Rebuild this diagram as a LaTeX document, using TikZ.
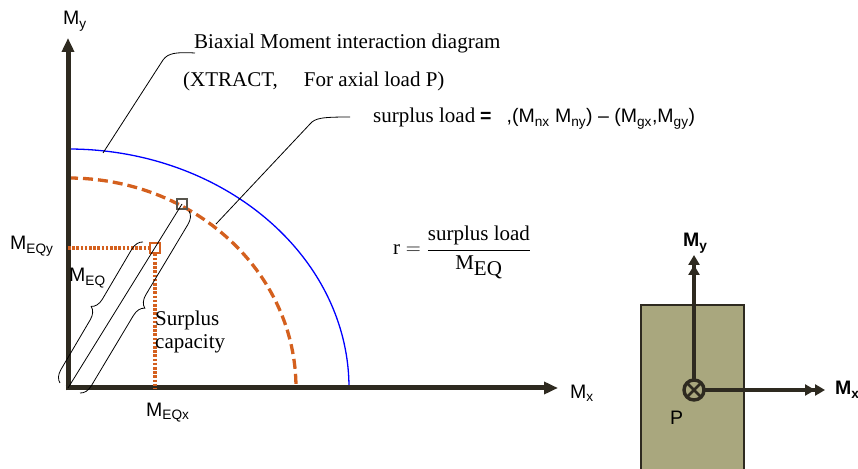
\documentclass[tikz,border=0pt]{standalone}
\usepackage{fontspec}
\setmainfont{Liberation Serif}
\setsansfont{Liberation Sans}
\usetikzlibrary{arrows.meta, decorations.pathreplacing}

\definecolor{axisbrown}{RGB}{46,42,32}
\definecolor{loadorange}{RGB}{212,96,30}
\definecolor{sectionolive}{RGB}{169,167,126}

\newcommand{\Msub}[1]{M\textsubscript{#1}}

\begin{document}
\begin{tikzpicture}[
    x=1pt, y=1pt,
    axis/.style={draw=axisbrown, line width=5pt, -{Triangle[length=14pt, width=12pt]}},
    secaxis/.style={draw=axisbrown, line width=3.4pt, -{Triangle[length=10pt, width=11pt] Triangle[length=10pt, width=11pt]}},
    capacity/.style={draw=blue, line width=1.3pt},
    demand/.style={draw=loadorange, line width=3.3pt, dash pattern=on 10pt off 5pt},
    projection/.style={draw=loadorange, line width=3.3pt, dash pattern=on 2.6pt off 1.6pt},
    leader/.style={draw=black, line width=0.8pt},
    curly/.style={draw=black, line width=0.8pt, decorate, decoration={brace, amplitude=12pt}},
    marker/.style={draw, rectangle, minimum size=10pt, inner sep=0pt, line width=1.1pt},
    serifnote/.style={font=\fontsize{21}{23}\selectfont, inner sep=0pt},
    symbol/.style={font=\sffamily\fontsize{19.5}{22}\selectfont, inner sep=0pt},
    symbolbold/.style={font=\sffamily\bfseries\fontsize{19.5}{22}\selectfont, inner sep=0pt}
]
    \useasboundingbox (0,0) rectangle (858,468);

    % ================= INTERACTION CURVES =================
    \draw[capacity] (68,319) arc[start angle=90, end angle=0, x radius=281pt, y radius=239pt];
    \draw[demand] (68,290) arc[start angle=90, end angle=0, x radius=228pt, y radius=210pt];

    % ================= AXES =================
    \coordinate (O) at (68,80);
    \coordinate (xFoot) at (65.5,80);
    \coordinate (yFoot) at (68,77.5);
    \coordinate (xTip) at (558,80);
    \coordinate (yTip) at (68,430);

    \draw[axis] (xFoot) -- (xTip);
    \draw[axis] (yFoot) -- (yTip);

    \node[symbol, anchor=base west] (My) at (63,443) {\Msub{y}};
    \node[symbol, anchor=base west] (Mx) at (570,70) {\Msub{x}};

    % ================= LOAD POINT =================
    \node[marker, draw=axisbrown!80] (cap) at (182,264) {};
    \node[marker, draw=loadorange] (EQ) at (155,220) {};
    \coordinate (EQyFoot) at (68,220);
    \coordinate (EQxFoot) at (155,80);

    \draw[projection] (EQyFoot) -- (EQ.west);
    \draw[projection] (EQ.south) -- (EQxFoot);
    \draw[leader] (O) -- (cap.center);

    % --- braces ---
    \coordinate (bMEQlow) at (60,85);
    \coordinate (bMEQhigh) at (143,226);
    \coordinate (bSurHigh) at (189,257);
    \coordinate (bSurLow) at (80,75);

    \draw[curly] (bMEQlow) -- (bMEQhigh);
    \draw[curly] (bSurHigh) -- (bSurLow);

    \node[symbol, anchor=base west] (MEQy) at (10,218) {\Msub{EQy}};
    \node[symbol, anchor=base west] (MEQ) at (69,186) {\Msub{EQ}};
    \node[symbol, anchor=base west] (MEQx) at (146,52) {\Msub{EQx}};
    \node[serifnote, anchor=north west, align=left] (surplus) at (155,157) {Surplus\\capacity};

    % ================= TEXTS & LEADERS =================
    \node[serifnote, anchor=base west] (title) at (194,419) {Biaxial Moment interaction diagram};
    \node[serifnote, anchor=base west] (subtitle) at (183,381) {(XTRACT,\hspace{26pt}For axial load P)};
    \node[serifnote, anchor=base west] (sload) at (373,345) {surplus load};
    \node[symbol, anchor=base west] (sdiff) at (480,345) {\textbf{=}\hspace{15pt},(\Msub{nx} \Msub{ny}) -- (\Msub{gx},\Msub{gy})};

    \coordinate (capacityPt) at (103,315);
    \coordinate (titleEnd) at (195,415);
    \coordinate (demandPt) at (216,244);
    \coordinate (sloadEnd) at (350,351);

    \draw[leader] (capacityPt) -- (163,408) .. controls (168,415) and (176,416) .. (titleEnd);
    \draw[leader] (demandPt) -- (310,344) .. controls (315,350) and (322,351) .. (sloadEnd);

    \node[serifnote, anchor=base west] (ratio) at (393,213) {$\textrm{r} = \displaystyle\frac{\textrm{surplus load}}{\textrm{M}_{\textrm{EQ}}}$};

    % ================= COLUMN SECTION =================
    \node[draw=axisbrown, line width=1.3pt, fill=sectionolive, rectangle, minimum width=103pt, minimum height=173pt, inner sep=0pt] (section) at (692.5,76.5) {};
    \node[draw=axisbrown, circle, line width=3.4pt, minimum size=20pt, inner sep=0pt, outer sep=0pt] (P) at (694,78) {};
    \draw[axisbrown, line width=2.8pt] (P.north west) -- (P.south east) (P.north east) -- (P.south west);

    \coordinate (secYtip) at (694,213);
    \coordinate (secXtip) at (825,78);

    \draw[secaxis] (P) -- (secYtip);
    \draw[secaxis] (P) -- (secXtip);

    \node[symbolbold, anchor=base west] (secMy) at (683,221) {\Msub{y}};
    \node[symbolbold, anchor=base west] (secMx) at (835,73) {\Msub{x}};
    \node[symbol, anchor=base west] (Pload) at (670,44) {P};

\end{tikzpicture}
\end{document}
